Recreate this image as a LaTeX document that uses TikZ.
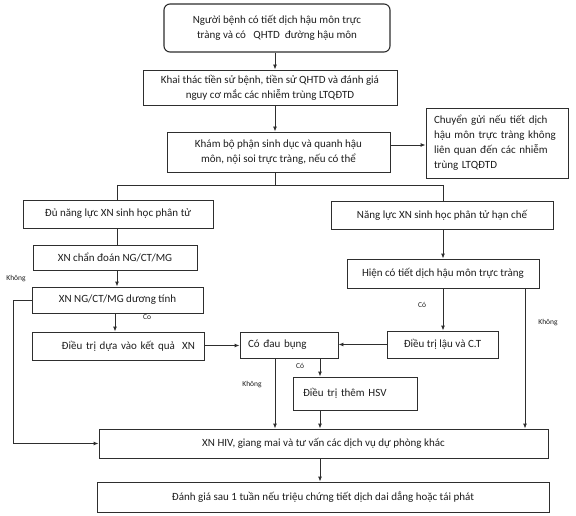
\documentclass[tikz,border=0pt]{standalone}
\usepackage{fontspec}
\setmainfont{Carlito}
\usetikzlibrary{arrows.meta,calc}
\definecolor{linec}{HTML}{2E2E2E}
\definecolor{textc}{HTML}{1E1E1E}
\tikzset{
  box/.style={draw=linec, line width=0.9pt, rectangle, inner sep=0pt, align=center,
    text=textc, font=\fontsize{11}{15}\selectfont},
  conn/.style={draw=linec, line width=0.9pt},
  arr/.style={conn, -{Latex[length=5pt,width=4pt]}},
  lbl/.style={text=textc, font=\fontsize{7.5}{9}\selectfont, inner sep=0pt}
}
\begin{document}
\begin{tikzpicture}[x=1pt,y=-1pt]
\path[use as bounding box, fill=white] (0,0) rectangle (576,516);
% nodes
\node[box, rounded corners=6pt, line width=1.1pt, minimum width=226pt, minimum height=48pt] (n1) at (277,28)
  {Người bệnh có tiết dịch hậu môn trực\\tràng và có \ \ QHTD \ đường hậu môn};
\node[box, minimum width=254pt, minimum height=35pt] (n2) at (270,87.5)
  {Khai thác tiền sử bệnh, tiền sử QHTD và đánh giá\\nguy cơ mắc các nhiễm trùng LTQĐTD};
\node[box, minimum width=223pt, minimum height=40pt] (n3) at (278.5,152)
  {Khám bộ phận sinh dục và quanh hậu\\môn, nội soi trực tràng, nếu có thể};
\node[box, align=left, text width=126pt, inner xsep=8pt, minimum height=70pt] (n4) at (497,143)
  {Chuyển gửi nếu tiết dịch\\hậu môn trực tràng không\\liên quan đến các nhiễm\\trùng LTQĐTD};
\node[box, minimum width=190pt, minimum height=28pt] (n5) at (118,214) {Đủ năng lực XN sinh học phân tử};
\node[box, minimum width=222pt, minimum height=28pt] (n6) at (442,215) {Năng lực XN sinh học phân tử hạn chế};
\node[box, minimum width=164pt, minimum height=25pt] (n7) at (115,257.5) {XN chẩn đoán NG/CT/MG};
\node[box, minimum width=171pt, minimum height=26pt] (n8) at (117.5,300) {XN NG/CT/MG dương tính};
\node[box, align=right, text width=154pt, inner xsep=9pt, minimum height=28pt] (n9) at (118,346) {Điều trị dựa vào kết quả \ XN};
\node[box, minimum width=192pt, minimum height=29pt] (n10) at (443,273.5) {Hiện có tiết dịch hậu môn trực tràng};
\node[box, align=left, text width=82pt, inner xsep=8pt, minimum height=26pt] (n11) at (289,345) {Có đau bụng};
\node[box, minimum width=111pt, minimum height=27pt] (n12) at (442.5,344.5) {Điều trị lậu và C.T};
\node[box, align=left, text width=104pt, inner xsep=10pt, minimum height=33pt] (n13) at (355,393.5) {Điều trị thêm HSV};
\node[box, minimum width=449pt, minimum height=29pt] (n14) at (323.5,443.5) {XN HIV, giang mai và tư vấn các dịch vụ dự phòng khác};
\node[box, minimum width=452pt, minimum height=30pt] (n15) at (323,497) {Đánh giá sau 1 tuần nếu triệu chứng tiết dịch dai dẳng hoặc tái phát};
% reference x positions
\coordinate (sx) at (275,0);
\coordinate (lx) at (117,0);
\coordinate (rx) at (443,0);
\coordinate (kx) at (525,0);
\coordinate (bx) at (320,0);
\coordinate (fx) at (13,0);
\coordinate (split) at (275,185);
% connectors
\draw[arr] (n1.south -| sx) -- (n2.north -| sx);
\draw[arr] (n2.south -| sx) -- (n3.north -| sx);
\draw[arr] (n3.east |- 0,145) -- (n4.west |- 0,145);
\draw[conn] (n3.south -| sx) -- (split);
\draw[conn] (split -| lx) -- (split -| rx);
\draw[conn] (split -| lx) -- (n5.north -| lx);
\draw[conn] (split -| rx) -- (n6.north -| rx);
\draw[conn] (n5.south -| lx) -- (n7.north -| lx);
\draw[arr] (n7.south -| lx) -- (n8.north -| lx);
\draw[arr] (n8.south -| 115,0) -- (n9.north -| 115,0);
\draw[arr] (n8.west) -- (n8.west -| fx) -- (fx |- n14.west) -- (n14.west);
\draw[arr] (n9.east |- 0,345.5) -- (n11.west |- 0,345.5);
\draw[arr] (n6.south -| rx) -- (n10.north -| rx);
\draw[arr] (n10.south -| rx) -- (n12.north -| rx);
\draw[arr] (n10.south -| kx) -- (n14.north -| kx);
\draw[arr] (n12.west |- 0,344.5) -- (n11.east |- 0,344.5);
\draw[arr] (n11.south -| bx) -- (n13.north -| bx);
\draw[arr] (n11.south -| sx) -- (n14.north -| sx);
\draw[arr] (n13.south -| bx) -- (n14.north -| bx);
\draw[arr] (n14.south -| bx) -- (n15.north -| bx);
% labels
\node[lbl] (l1) at (16,279) {Không};
\node[lbl] (l2) at (147,317) {Co};
\node[lbl] (l3) at (422,305) {Có};
\node[lbl] (l4) at (548,323) {Không};
\node[lbl] (l5) at (300,366) {Có};
\node[lbl] (l6) at (252,385) {Không};
\end{tikzpicture}
\end{document}
